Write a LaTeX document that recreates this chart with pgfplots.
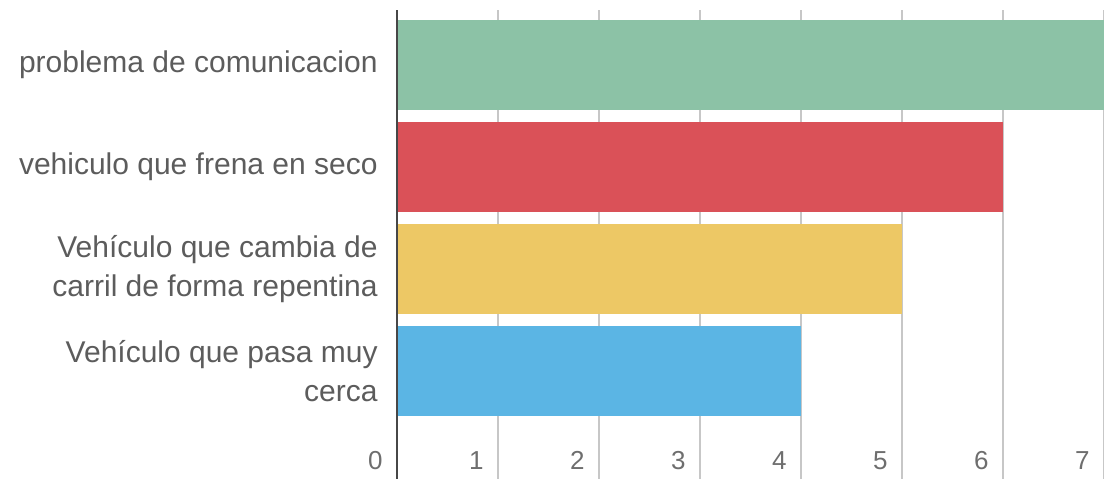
\documentclass[border=0pt]{standalone}
\usepackage{fontspec}
\setmainfont{Liberation Sans}
\usepackage{pgfplots}
\pgfplotsset{compat=1.18}
\definecolor{cgreen}{RGB}{140,194,166}
\definecolor{cred}{RGB}{218,81,88}
\definecolor{cyellow}{RGB}{237,200,101}
\definecolor{cblue}{RGB}{91,181,228}
\definecolor{labgray}{RGB}{92,92,92}
\definecolor{numgray}{RGB}{110,110,110}
\begin{document}
\begin{tikzpicture}
\begin{axis}[
  x=50.5pt, y=51pt,
  xmin=0, xmax=7, ymin=-1.059, ymax=3.539,
  axis line style={draw=none},
  major tick length=0pt,
  xmajorgrids,
  grid style={draw=black!22, line width=0.7pt},
  xtick={0,1,2,3,4,5,6,7},
  ytick={0,1,2,3},
  yticklabels={{Vehículo que pasa muy\\cerca},{Vehículo que cambia de\\carril de forma repentina},{vehiculo que frena en seco},{problema de comunicacion}},
  yticklabel style={anchor=east, inner sep=0pt, xshift=-9.5pt, align=right, text=labgray, font=\fontsize{15}{19.5}\selectfont},
  xticklabel style={anchor=south east, inner sep=0pt, xshift=-7pt, yshift=4.5pt, text=numgray, font=\fontsize{13}{15}\selectfont},
  /pgf/number format/assume math mode=true,
  xbar, bar width=45pt, bar shift=0pt,
  clip=false,
]
\addplot[fill=cblue, draw=none] coordinates {(4,0)};
\addplot[fill=cyellow, draw=none] coordinates {(5,1)};
\addplot[fill=cred, draw=none] coordinates {(6,2)};
\addplot[fill=cgreen, draw=none] coordinates {(7,3)};
\draw[line width=1.1pt, draw=black!72] (axis cs:0,-1.059) -- (axis cs:0,3.539);
\coordinate (bl) at (axis cs:-3.9307,-1.059);
\coordinate (tr) at (axis cs:7,3.637);
\end{axis}
\pgfresetboundingbox
\path[use as bounding box] (bl) rectangle (tr);
\end{tikzpicture}
\end{document}
